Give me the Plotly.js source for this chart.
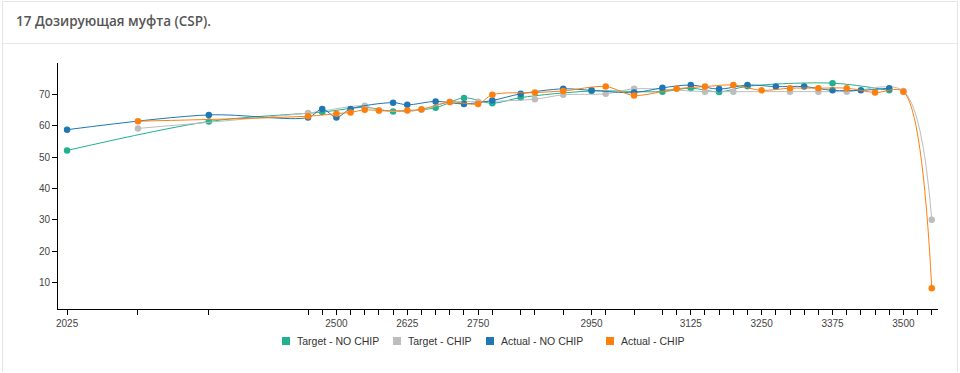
<!DOCTYPE html>
<html>
<head>
<meta charset="utf-8">
<script src="https://cdn.plot.ly/plotly-3.0.1.min.js"></script>
<style>
html,body{margin:0;padding:0;background:#fff;}
#wrap{position:relative;width:960px;height:373px;}
#frame{position:absolute;left:2px;top:1px;width:956px;height:371px;border:1px solid #e6e6e6;border-bottom:none;box-sizing:border-box;}
#sep{position:absolute;left:3px;top:43px;width:955px;height:1px;background:#e6e6e6;}
#chart{position:absolute;left:0;top:0;width:960px;height:373px;}
</style>
</head>
<body>
<div id="wrap">
<div id="frame"></div>
<div id="sep"></div>
<div id="chart"></div>
</div>
<script>
const seriesNames = ["Target - NO CHIP", "Target - CHIP", "Actual - NO CHIP", "Actual - CHIP"];
const seriesColors = ["#22b08f", "#bdbdbd", "#1f77b4", "#ff7f0e"];

const targetNoChipX = [2025, 2275, 2475, 2550, 2600, 2675, 2725, 2775, 2825, 2950, 3075, 3125, 3175, 3225, 3375, 3475];
const targetNoChipY = [52.1, 61.3, 64.3, 65.8, 64.5, 65.7, 68.8, 67.1, 68.9, 71.0, 70.8, 71.9, 70.7, 72.5, 73.5, 71.2];

const targetChipX = [2150, 2450, 2550, 2575, 2650, 2700, 2750, 2850, 2900, 2975, 3025, 3150, 3200, 3300, 3350, 3400, 3500, 3550];
const targetChipY = [59.1, 64.0, 66.3, 64.8, 65.0, 67.5, 67.6, 68.4, 69.8, 70.1, 71.7, 70.8, 70.8, 70.8, 70.8, 70.8, 71.0, 30.1];

const actualNoChipX = [2025, 2275, 2450, 2475, 2500, 2525, 2600, 2625, 2675, 2725, 2775, 2825, 2900, 2950, 3025, 3075, 3125, 3175, 3225, 3275, 3325, 3375, 3425, 3475];
const actualNoChipY = [58.7, 63.4, 62.6, 65.3, 62.6, 65.3, 67.3, 66.6, 67.7, 66.9, 68.0, 70.1, 71.7, 71.2, 70.5, 72.0, 72.9, 71.6, 72.9, 72.4, 72.4, 71.2, 71.2, 71.9];

const actualChipX = [2150, 2450, 2500, 2525, 2550, 2575, 2625, 2650, 2700, 2750, 2775, 2850, 2900, 2975, 3025, 3100, 3150, 3200, 3250, 3300, 3350, 3400, 3450, 3500, 3550];
const actualChipY = [61.4, 63.0, 63.8, 64.2, 65.0, 64.8, 64.8, 65.2, 67.5, 66.9, 69.8, 70.5, 71.0, 72.4, 69.6, 71.7, 72.4, 72.9, 71.2, 71.9, 71.9, 71.9, 70.5, 70.8, 8.3];

const tickValues = [2025, 2150, 2275, 2450, 2475, 2500, 2525, 2550, 2575, 2600, 2625, 2650, 2675, 2700, 2725, 2750, 2775, 2825, 2850, 2900, 2950, 2975, 3025, 3075, 3100, 3125, 3150, 3175, 3200, 3225, 3250, 3275, 3300, 3325, 3350, 3375, 3400, 3425, 3450, 3475, 3500, 3525, 3550];
const labeledTicks = [2025, 2500, 2625, 2750, 2950, 3125, 3250, 3375, 3500];
const yTickValues = [10, 20, 30, 40, 50, 60, 70];

const xs = [targetNoChipX, targetChipX, actualNoChipX, actualChipX];
const ys = [targetNoChipY, targetChipY, actualNoChipY, actualChipY];

const traces = [];
for (let i = 0; i < 4; i++) {
  traces.push({
    type: 'scatter', mode: 'lines+markers',
    x: xs[i], y: ys[i], name: seriesNames[i],
    line: {color: seriesColors[i], width: 1, shape: 'spline', smoothing: 0.9},
    marker: {color: seriesColors[i], size: 6.5},
    showlegend: false, hoverinfo: 'x+y'
  });
}

// Custom legend (square keys + labels), positioned in pixels then converted to paper coords
const M = {l: 58, r: 22, t: 63, b: 64};
const W = 960, H = 373;
const pw = W - M.l - M.r, ph = H - M.t - M.b;
const px2x = p => (p - M.l) / pw;
const py2y = p => (H - M.b - p) / ph;
const legendCenters = [286, 397, 490, 610];
const legendY = 341;
const shapes = [], annotations = [];
seriesNames.forEach((name, i) => {
  const cx = legendCenters[i];
  shapes.push({type: 'rect', xref: 'paper', yref: 'paper',
    x0: px2x(cx - 4), x1: px2x(cx + 4), y0: py2y(legendY + 4), y1: py2y(legendY - 4),
    fillcolor: seriesColors[i], line: {width: 0}});
  annotations.push({xref: 'paper', yref: 'paper', x: px2x(cx + 9), y: py2y(legendY),
    xanchor: 'left', yanchor: 'middle', showarrow: false, text: name,
    font: {family: 'Liberation Sans, Arial', size: 10.5, color: '#333'}});
});

const layout = {
  width: W, height: H,
  paper_bgcolor: 'rgba(0,0,0,0)', plot_bgcolor: 'rgba(0,0,0,0)',
  margin: M,
  title: {
    text: '17 Дозирующая муфта (CSP).',
    font: {family: 'Open Sans', size: 13.5, color: '#555', weight: 600},
    xref: 'container', yref: 'container', x: 16/960, xanchor: 'left', y: 1 - 21/373, yanchor: 'middle'
  },
  showlegend: false,
  shapes: shapes,
  annotations: annotations,
  xaxis: {
    range: [2009, 3561],
    tickmode: 'array', tickvals: tickValues,
    ticktext: tickValues.map(v => labeledTicks.includes(v) ? String(v) : ''),
    ticks: 'outside', ticklen: 5, tickcolor: '#000', tickwidth: 1,
    showline: true, linecolor: '#000', linewidth: 1,
    showgrid: false, zeroline: false,
    tickfont: {family: 'Liberation Sans, Arial', size: 10, color: '#444'}
  },
  yaxis: {
    range: [1.7, 79.9],
    tickmode: 'array', tickvals: yTickValues,
    ticks: 'outside', ticklen: 5, tickcolor: '#000', tickwidth: 1,
    showline: true, linecolor: '#000', linewidth: 1,
    showgrid: false, zeroline: false,
    tickfont: {family: 'Liberation Sans, Arial', size: 10, color: '#444'}
  }
};

Plotly.newPlot('chart', traces, layout, {displayModeBar: false, staticPlot: true});
</script>
</body>
</html>
